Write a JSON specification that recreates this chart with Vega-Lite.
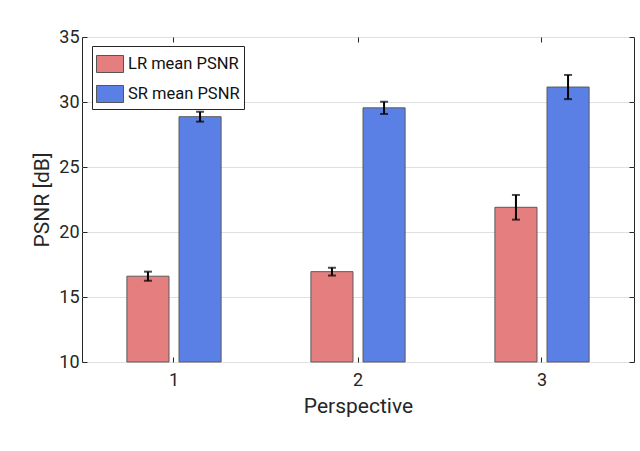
{
  "$schema": "https://vega.github.io/schema/vega-lite/v6.json",
  "width": 552,
  "height": 325,
  "autosize": {"type": "none"},
  "padding": {"left": 82, "top": 37, "right": 6, "bottom": 89},
  "background": "white",
  "config": {
    "font": "Roboto",
    "view": {"stroke": "#262626", "strokeWidth": 1},
    "axis": {
      "domain": false,
      "labelFont": "Roboto",
      "labelFontSize": 18,
      "labelFontWeight": "normal",
      "labelColor": "#262626",
      "titleFont": "Roboto",
      "titleFontSize": 21,
      "titleFontWeight": "normal",
      "titleColor": "#262626",
      "tickColor": "#262626",
      "tickWidth": 1,
      "tickSize": -5
    }
  },
  "data": {
    "values": [
      {"p": "1", "s": "LR mean PSNR", "v": 16.6, "lo": 16.25, "hi": 16.95},
      {"p": "1", "s": "SR mean PSNR", "v": 28.87, "lo": 28.49, "hi": 29.25},
      {"p": "2", "s": "LR mean PSNR", "v": 16.95, "lo": 16.65, "hi": 17.25},
      {"p": "2", "s": "SR mean PSNR", "v": 29.55, "lo": 29.08, "hi": 30.02},
      {"p": "3", "s": "LR mean PSNR", "v": 21.9, "lo": 20.95, "hi": 22.85},
      {"p": "3", "s": "SR mean PSNR", "v": 31.15, "lo": 30.22, "hi": 32.08}
    ]
  },
  "encoding": {
    "x": {
      "field": "p", "type": "nominal",
      "scale": {"paddingInner": 0.488, "paddingOuter": 0.244},
      "axis": null
    },
    "xOffset": {"field": "s", "type": "nominal", "scale": {"paddingInner": 0.192, "paddingOuter": 0}}
  },
  "layer": [
    {
      "mark": {"type": "bar", "stroke": "#5a5a5a", "strokeWidth": 1},
      "encoding": {
        "x": {
          "field": "p", "type": "nominal",
          "axis": {"orient": "bottom", "title": "Perspective", "labelAngle": 0, "labelPadding": 14, "titlePadding": 6, "grid": false}
        },
        "y": {
          "field": "v", "type": "quantitative",
          "scale": {"domain": [10, 35], "zero": false, "nice": false},
          "axis": {"orient": "left", "title": "PSNR [dB]", "values": [10, 15, 20, 25, 30, 35], "grid": true, "gridColor": "#e0e0e0", "gridWidth": 1, "labelPadding": 8, "titlePadding": 6}
        },
        "y2": {"datum": 10},
        "color": {
          "field": "s", "type": "nominal",
          "scale": {"range": ["#E57E7E", "#5A80E5"]},
          "legend": {
            "title": null,
            "orient": "none",
            "legendX": 10,
            "legendY": 9,
            "strokeColor": "#262626",
            "fillColor": "white",
            "padding": 4,
            "symbolType": "M-1,-0.63L1,-0.63L1,0.63L-1,0.63Z",
            "symbolSize": 729,
            "symbolStrokeColor": "#555555",
            "symbolStrokeWidth": 1,
            "symbolOpacity": 1,
            "labelFont": "Roboto",
            "labelFontSize": 16.5,
            "labelColor": "#111111",
            "labelOffset": 4,
            "rowPadding": 5
          }
        }
      }
    },
    {
      "mark": {"type": "rule", "color": "black", "strokeWidth": 2},
      "encoding": {
        "x": {
          "field": "p", "type": "nominal",
          "axis": {"orient": "top", "labels": false, "title": null, "grid": false}
        },
        "y": {
          "field": "lo", "type": "quantitative",
          "axis": {"orient": "right", "labels": false, "title": null, "grid": false, "values": [10, 15, 20, 25, 30, 35]}
        },
        "y2": {"field": "hi"}
      }
    },
    {
      "mark": {"type": "tick", "color": "black", "thickness": 2, "size": 8},
      "encoding": {"y": {"field": "lo", "type": "quantitative", "axis": null}}
    },
    {
      "mark": {"type": "tick", "color": "black", "thickness": 2, "size": 8},
      "encoding": {"y": {"field": "hi", "type": "quantitative", "axis": null}}
    }
  ],
  "resolve": {"axis": {"x": "independent", "y": "independent"}}
}
